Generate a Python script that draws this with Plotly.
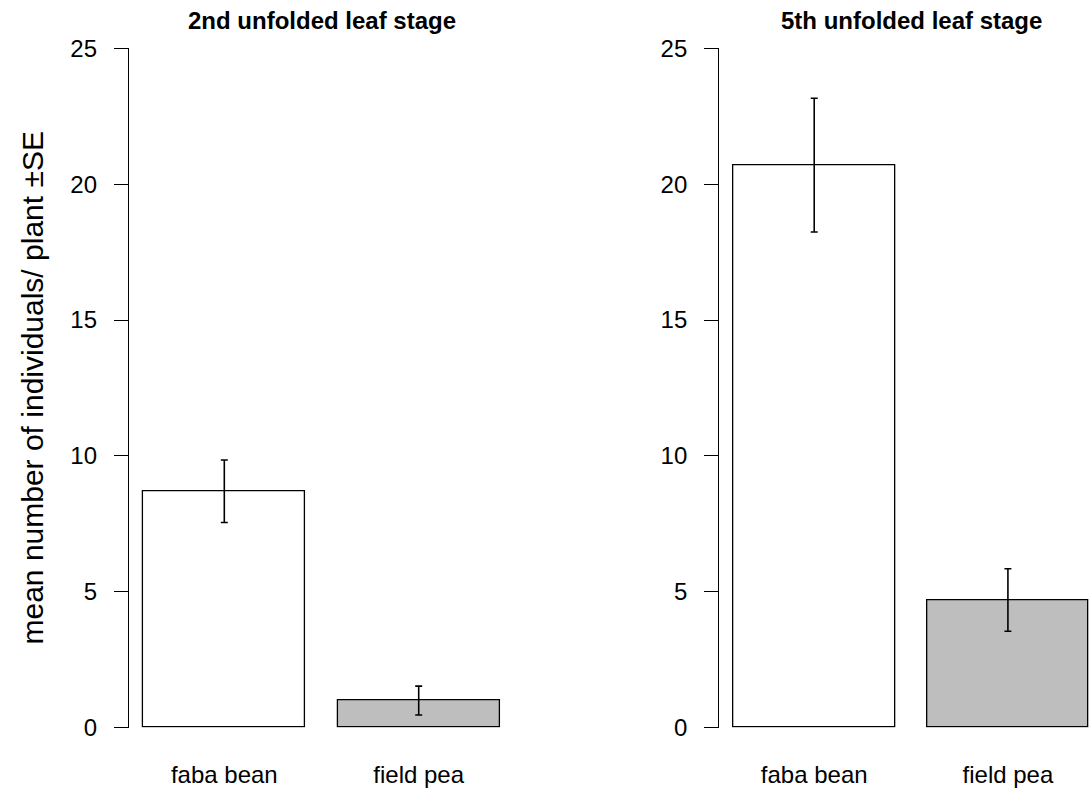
import plotly.graph_objects as go

# ---- data ----
categories = ["faba bean", "field pea"]
stage_titles = ["2nd unfolded leaf stage", "5th unfolded leaf stage"]
means_2nd = [8.7, 1.0]
se_2nd = [1.15, 0.53]
means_5th = [20.7, 4.7]
se_5th = [2.46, 1.15]
bar_colors = ["#FFFFFF", "#BEBEBE"]
y_ticks = [0, 5, 10, 15, 20, 25]
y_label = "mean number of individuals/ plant \u00b1SE"

# R barplot geometry: width 1, space 0.2
bar_centers = [0.7, 1.9]

W, H = 1089, 788
FONT = "Liberation Sans, Arial, sans-serif"

fig = go.Figure()

panels = [(means_2nd, se_2nd, "x", "y"), (means_5th, se_5th, "x2", "y2")]
for means, ses, xa, ya in panels:
    fig.add_trace(go.Bar(
        x=bar_centers, y=means, width=1.0,
        marker=dict(color=bar_colors, line=dict(color="black", width=1.3)),
        error_y=dict(type="data", array=ses, visible=True,
                     color="black", thickness=1.6, width=3.5),
        xaxis=xa, yaxis=ya, showlegend=False, hoverinfo="skip",
    ))

# pixel geometry
left_x0, left_scale = 110.9, 162.0
right_x0, right_scale = 701.2, 161.7
xmin = 0.112
xmax = 2.488

def px(v, x0, s):
    return x0 + v * s

l_dom = [px(xmin, left_x0, left_scale) / W, px(xmax, left_x0, left_scale) / W]
r_left = px(xmin, right_x0, right_scale)
r_dom = [r_left / W, 1.0]
r_xmax = (W - right_x0) / right_scale + 0.004

y_bottom_px, y_top_px = 727.7, 48.3
y_dom = [(H - y_bottom_px) / H, (H - y_top_px) / H]

xcommon = dict(showgrid=False, zeroline=False, showline=False, ticks="",
               tickmode="array", tickvals=bar_centers, ticktext=categories,
               tickfont=dict(family=FONT, size=24, color="black"),
               ticklabelstandoff=30, fixedrange=True, automargin=False)
ycommon = dict(showgrid=False, zeroline=False, showline=True, linecolor="black",
               linewidth=1.4, ticks="outside", ticklen=14, tickwidth=1.4,
               tickcolor="black", tickmode="array", tickvals=y_ticks,
               tickfont=dict(family=FONT, size=24, color="black"),
               ticklabelstandoff=12, range=[0, 25], domain=y_dom,
               fixedrange=True, automargin=False)

fig.update_layout(
    width=W, height=H,
    margin=dict(l=0, r=0, t=0, b=0, autoexpand=False),
    paper_bgcolor="white", plot_bgcolor="white",
    xaxis=dict(domain=l_dom, range=[xmin, xmax], anchor="y", **xcommon),
    yaxis=dict(anchor="x", **ycommon),
    xaxis2=dict(domain=r_dom, range=[xmin, r_xmax], anchor="y2", **xcommon),
    yaxis2=dict(anchor="x2", **ycommon),
    bargap=0,
)

for title, xref in zip(stage_titles, ["x", "x2"]):
    fig.add_annotation(text="<b>" + title + "</b>", xref=xref, yref="paper",
                       x=1.3, y=1 - 21 / H, xanchor="center", yanchor="middle",
                       showarrow=False,
                       font=dict(family=FONT, size=24, color="black"))

fig.add_annotation(text=y_label, textangle=-90, xref="paper", yref="paper",
                   x=32 / W, y=1 - 388.5 / H, xanchor="center", yanchor="middle",
                   showarrow=False, font=dict(family=FONT, size=30, color="black"))

fig.write_html("out.html")
